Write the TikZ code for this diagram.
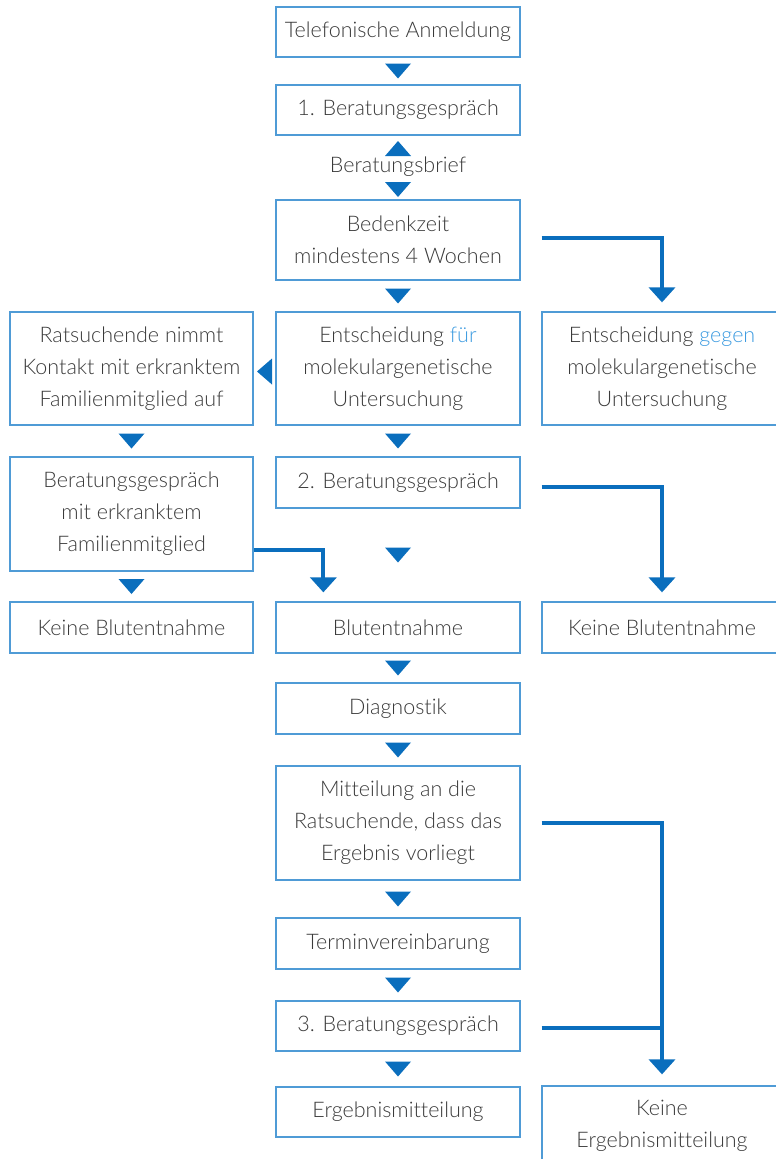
\documentclass[tikz,border=0pt]{standalone}
\usepackage{fontspec}
\setmainfont{Lato Light}[Ligatures=NoCommon]
\usetikzlibrary{arrows.meta,calc}
\definecolor{arrowblue}{HTML}{0A6EBD}
\definecolor{boxblue}{HTML}{4F9BD6}
\definecolor{txtgray}{HTML}{3A3A3A}
\definecolor{hiblue}{HTML}{3D9BE0}
\newcommand\dtri[1]{\fill[arrowblue] #1 ++(-13,-7.5) -- ++(26,0) -- ++(-13,15) -- cycle;}
\newcommand\utri[1]{\fill[arrowblue] #1 ++(-13,7.5) -- ++(26,0) -- ++(-13,-15) -- cycle;}
\newcommand\ltri[1]{\fill[arrowblue] #1 ++(7.5,-13) -- ++(0,26) -- ++(-15,-13) -- cycle;}
\begin{document}
\begin{tikzpicture}[x=1pt,y=-1pt,
  box/.style={draw=boxblue, line width=1.3pt, rectangle, inner sep=0pt, align=center, text=txtgray, font=\fontsize{21.5}{32}\selectfont},
  cbox/.style={box, minimum width=244pt},
  lbox/.style={box, minimum width=243pt},
  rbox/.style={box, minimum width=240pt},
  plain/.style={inner sep=0pt, text=txtgray, font=\fontsize{21.5}{32}\selectfont},
  link/.style={draw=arrowblue, line width=4pt, -{Triangle[width=26pt,length=15pt]}},
  bar/.style={draw=arrowblue, line width=4pt},
]
\useasboundingbox (0,0) rectangle (776,1159);
\clip (0,0) rectangle (776,1159);

\node[cbox, minimum height=50pt] (tel) at (398,32) {Telefonische Anmeldung};
\node[cbox, minimum height=50pt] (b1) at (398,110) {1. Beratungsgespräch};
\node[plain] (brief) at (398,167) {Beratungsbrief};
\node[cbox, minimum height=80pt] (bed) at (398,240) {Bedenkzeit\\mindestens 4 Wochen};

\node[lbox, minimum height=113pt] (kontakt) at (131.5,368.5) {Ratsuchende nimmt\\Kontakt mit erkranktem\\Familienmitglied auf};
\node[cbox, minimum height=113pt] (fuer) at (398,368.5) {Entscheidung \textcolor{hiblue}{für}\\molekulargenetische\\Untersuchung};
\node[rbox, minimum height=113pt] (gegen) at (662,368.5) {Entscheidung \textcolor{hiblue}{gegen}\\molekulargenetische\\Untersuchung};

\node[lbox, minimum height=114pt] (bfam) at (131.5,514) {Beratungsgespräch\\mit erkranktem\\Familienmitglied};
\node[cbox, minimum height=51pt] (b2) at (398,482.5) {2. Beratungsgespräch};

\node[lbox, minimum height=51pt] (kb1) at (131.5,627.5) {Keine Blutentnahme};
\node[cbox, minimum height=51pt] (blut) at (398,627.5) {Blutentnahme};
\node[rbox, minimum height=51pt] (kb2) at (662,627.5) {Keine Blutentnahme};

\node[cbox, minimum height=51pt] (diag) at (398,708.5) {Diagnostik};
\node[cbox, minimum height=114pt] (mitt) at (398,823) {Mitteilung an die\\Ratsuchende, dass das\\Ergebnis vorliegt};
\node[cbox, minimum height=51pt] (termin) at (398,943.5) {Terminvereinbarung};
\node[cbox, minimum height=50pt] (b3) at (398,1026) {3. Beratungsgespräch};
\node[cbox, minimum height=50pt] (erg) at (398,1112) {Ergebnismitteilung};
\node[rbox, minimum height=80pt] (kerg) at (662,1126) {Keine\\Ergebnismitteilung};

% small triangles
\dtri{($(tel.south)!0.5!(b1.north)$)}
\utri{(398,148.5)}
\dtri{(398,189.5)}
\dtri{($(bed.south)!0.5!(fuer.north)$)}
\ltri{($(kontakt.east)!0.5!(fuer.west)+(0,3)$)}
\dtri{($(kontakt.south)!0.5!(bfam.north)$)}
\dtri{($(fuer.south)!0.5!(b2.north)$)}
\dtri{($(b2.south)!0.5!(blut.north)$)}
\dtri{($(bfam.south)!0.5!(kb1.north)$)}
\dtri{($(blut.south)!0.5!(diag.north)$)}
\dtri{($(diag.south)!0.5!(mitt.north)$)}
\dtri{($(mitt.south)!0.5!(termin.north)$)}
\dtri{($(termin.south)!0.5!(b3.north)$)}
\dtri{($(b3.south)!0.5!(erg.north)$)}

% big arrows
\coordinate (s1) at ($(bed.east)+(21,-2)$);
\draw[link] (s1) -| ($(gegen.north)+(0,-9)$);
\coordinate (s2) at ($(b2.east)+(21,4.5)$);
\draw[link] (s2) -| ($(kb2.north)+(0,-9)$);
\coordinate (s3) at ($(bfam.east)+(0,36)$);
\coordinate (t3) at ($(blut.north west)+(48,-9)$);
\draw[link] (s3) -| (t3);
\coordinate (s4) at ($(mitt.east)+(21,0)$);
\draw[link] (s4) -| ($(kerg.north)+(0,-11)$);
\coordinate (s5) at ($(b3.east)+(21,2)$);
\draw[bar] (s5) -- (s5 -| kerg.north);
\end{tikzpicture}
\end{document}
